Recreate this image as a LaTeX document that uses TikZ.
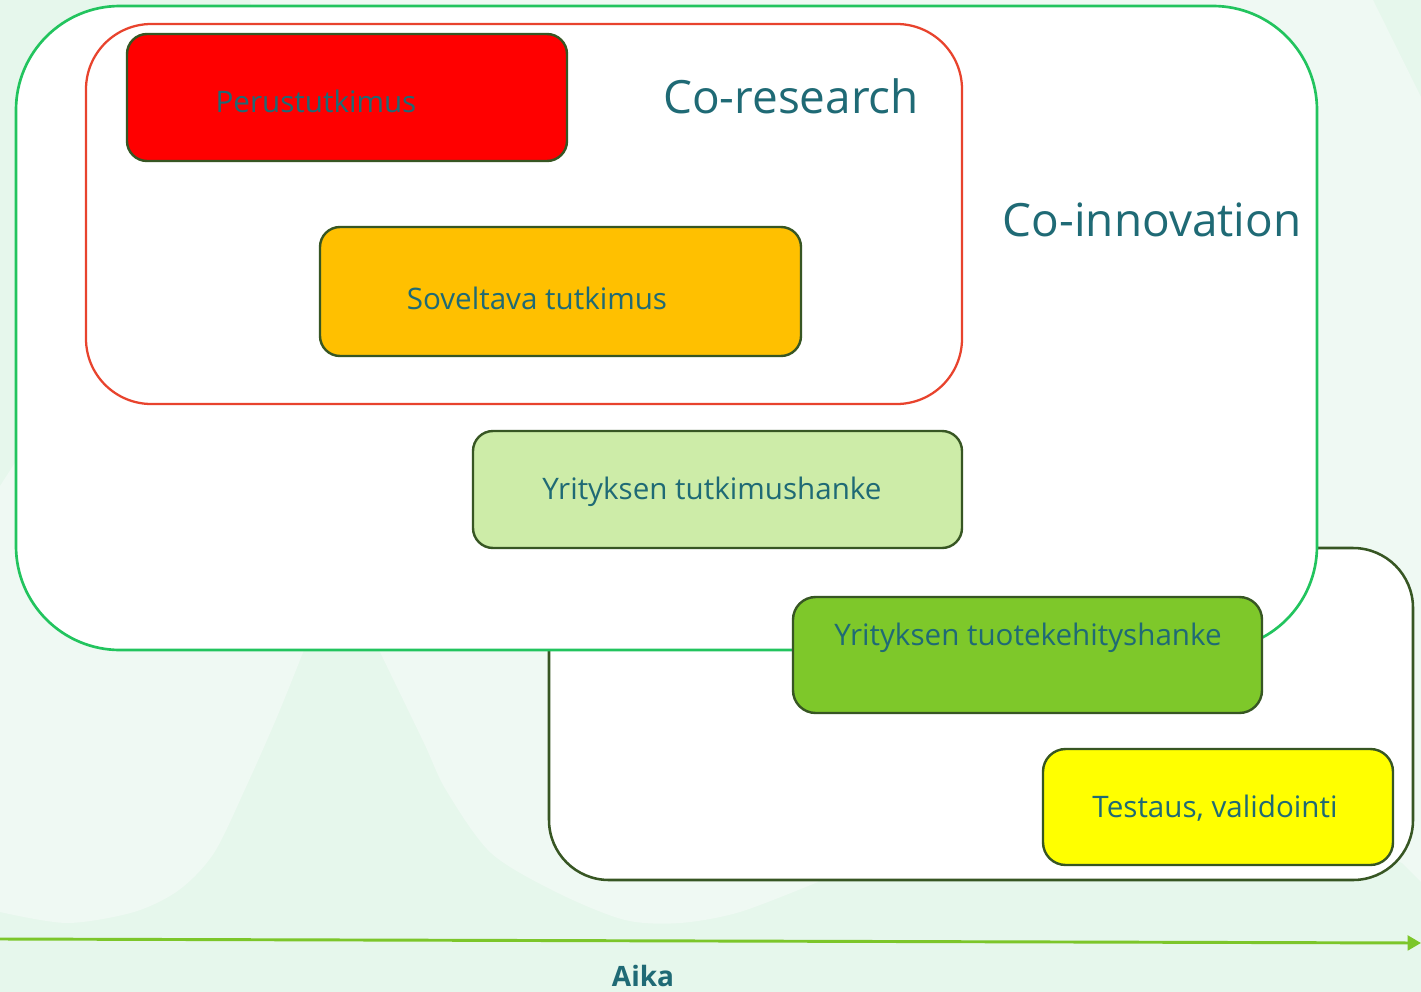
\documentclass[tikz,border=0pt]{standalone}
\usepackage{fontspec}
\setmainfont{Open Sans}
\usetikzlibrary{arrows.meta,fit}
\definecolor{bgdark}{RGB}{230,247,236}
\definecolor{bglight}{RGB}{239,249,243}
\definecolor{innovgreen}{RGB}{34,196,94}
\definecolor{researchred}{RGB}{232,67,45}
\definecolor{darkline}{HTML}{375623}
\definecolor{tealtext}{RGB}{31,106,117}
\definecolor{timegreen}{RGB}{124,198,42}
\definecolor{fillred}{HTML}{FF0000}
\definecolor{fillorange}{HTML}{FFC000}
\definecolor{filllight}{RGB}{205,236,168}
\definecolor{fillgreen}{RGB}{126,200,42}
\definecolor{fillyellow}{HTML}{FFFF00}
\tikzset{
  frame/.style={inner sep=0pt, fill=white},
  stagebox/.style={inner sep=0pt, draw=darkline, line width=1.8pt, rounded corners=15pt},
  stagetext/.style={anchor=base, text=tealtext, inner sep=0pt, font=\fontsize{22.2pt}{26pt}\selectfont},
  bigtext/.style={anchor=base, text=tealtext, inner sep=0pt, font=\fontsize{34.4pt}{40pt}\selectfont},
  timearrow/.style={draw=timegreen, line width=2.2pt, -{Triangle[length=10pt,width=11pt]}}
}
\begin{document}
\begin{tikzpicture}[x=0.75pt,y=-0.75pt]
\useasboundingbox (0,0) rectangle (1421,992);
% background
\fill[bgdark] (0,0) rectangle (1421,992);
\fill[bglight] plot[smooth] coordinates {(0,912) (67,923) (134,912) (179,890) (214,853) (246,787) (277,717) (304,650)} -- (330,400) -- (100,300) -- (20,455) -- (0,486) -- cycle;
\fill[bglight] plot[smooth] coordinates {(379,650) (424,743) (446,790) (491,853) (558,893) (625,920) (680,923) (740,912) (818,882)} -- (830,860) -- (1395,860) -- (1402,863) -- (1421,882) -- (1421,97) -- (1373,0) -- (250,0) -- (300,400) -- cycle;
% frames
\node[frame, fit={(549,548)(1413,880)}, draw=darkline, line width=1.9pt, rounded corners=45pt] (coinnovlow) {};
\node[frame, fit={(16,6)(1317,650)}, draw=innovgreen, line width=2pt, rounded corners=78pt] (coinnov) {};
\node[frame, fit={(86,24)(962,404)}, draw=researchred, line width=1.7pt, rounded corners=49pt] (coresearch) {};
% stage boxes
\node[stagebox, fill=fillred, fit={(127,34)(567,161)}] (perus) {};
\node[stagebox, fill=fillorange, fit={(320,227)(801,356)}] (sovel) {};
\node[stagebox, fill=filllight, fit={(473,431)(962,548)}] (ytutk) {};
\node[stagebox, fill=fillgreen, rounded corners=17pt, fit={(793,597)(1262,713)}] (ytuote) {};
\node[stagebox, fill=fillyellow, rounded corners=17pt, fit={(1043,749)(1393,865)}] (testaus) {};
% texts
\node[stagetext] (perust) at (316,112) {Perustutkimus};
\node[stagetext] (sovelt) at (537,309) {Soveltava tutkimus};
\node[stagetext] (ytutkt) at (712,499) {Yrityksen tutkimushanke};
\node[stagetext] (ytuotet) at (1028,645) {Yrityksen tuotekehityshanke};
\node[stagetext] (testaust) at (1215,817) {Testaus, validointi};
\node[bigtext] (coresearcht) at (791,113) {Co-research};
\node[bigtext] (coinnovt) at (1152,236) {Co-innovation};
% time axis
\coordinate (tstart) at (0,939);
\coordinate (tend) at (1421,943);
\draw[timearrow] (tstart) -- (tend);
\node[anchor=base, text=tealtext, inner sep=0pt, font=\fontsize{21pt}{25pt}\selectfont\bfseries] (aika) at (643,986) {Aika};
\end{tikzpicture}
\end{document}
